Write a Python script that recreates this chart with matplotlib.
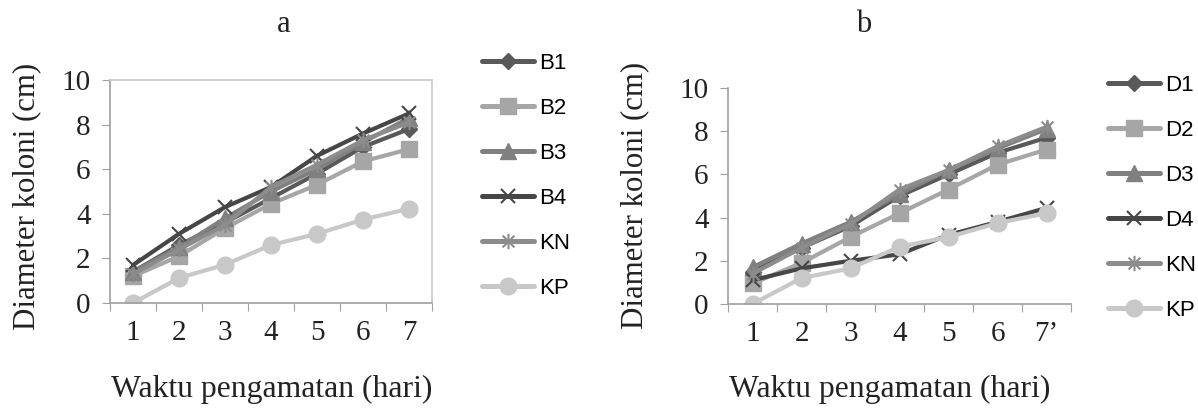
import numpy as np
import matplotlib
matplotlib.use("Agg")
import matplotlib.pyplot as plt
from matplotlib.path import Path
from matplotlib.lines import Line2D

# =============================================================================
# DATA
# =============================================================================
days = [1, 2, 3, 4, 5, 6, 7]
tick_labels_a = ["1", "2", "3", "4", "5", "6", "7"]
tick_labels_b = ["1", "2", "3", "4", "5", "6", "7\u2019"]

labels_a = ["B1", "B2", "B3", "B4", "KN", "KP"]
b1 = [1.4, 2.6, 3.6, 4.7, 5.8, 7.0, 7.8]
b2 = [1.2, 2.1, 3.35, 4.45, 5.3, 6.35, 6.9]
b3 = [1.4, 2.5, 3.8, 5.0, 6.0, 7.2, 8.3]
b4 = [1.7, 3.1, 4.3, 5.2, 6.6, 7.6, 8.5]
kn_a = [1.3, 2.4, 3.5, 5.2, 6.2, 7.3, 8.1]
kp_a = [0.0, 1.12, 1.72, 2.6, 3.1, 3.74, 4.23]

labels_b = ["D1", "D2", "D3", "D4", "KN", "KP"]
d1 = [1.5, 2.6, 3.6, 5.0, 6.0, 7.0, 7.7]
d2 = [0.95, 1.9, 3.1, 4.2, 5.3, 6.45, 7.15]
d3 = [1.7, 2.8, 3.8, 5.1, 6.2, 7.2, 8.1]
d4 = [1.1, 1.65, 2.0, 2.3, 3.2, 3.8, 4.45]
kn_b = [1.4, 2.6, 3.7, 5.3, 6.2, 7.3, 8.2]
kp_b = [0.0, 1.2, 1.65, 2.65, 3.1, 3.75, 4.2]

# =============================================================================
# STYLE
# =============================================================================
SERIF = "Liberation Serif"
SANS = "Liberation Sans"
TEXT = "#222222"

# Excel-like "star": an x with a vertical bar
STAR = Path([(-1, -1), (1, 1), (-1, 1), (1, -1), (0, -1.3), (0, 1.3)],
            [Path.MOVETO, Path.LINETO, Path.MOVETO, Path.LINETO,
             Path.MOVETO, Path.LINETO])

STYLES = [
    dict(color="#595959", marker="D", ms=8),
    dict(color="#A6A6A6", marker="s", ms=11),
    dict(color="#808080", marker="^", ms=11),
    dict(color="#464646", marker="x", ms=10, mew=1.5),
    dict(color="#8C8C8C", marker=STAR, ms=11, mew=1.5),
    dict(color="#C8C8C8", marker="o", ms=12),
]

W, H = 1198, 412
fig = plt.figure(figsize=(W / 100, H / 100), dpi=100)


def px_axes(left, right, top, bottom):
    return fig.add_axes([left / W, 1 - bottom / H, (right - left) / W, (bottom - top) / H])


def draw_panel(ax, series, labels, xticklabels, boxed):
    for vals, lab, st in zip(series, labels, STYLES):
        ax.plot(days, vals, color=st["color"], lw=3, marker=st["marker"],
                ms=st["ms"], mew=st.get("mew", 1), mec=st["color"],
                mfc=st["color"], label=lab, solid_capstyle="round")
    ax.set_xlim(0.5, 7.5)
    ax.set_ylim(0, 10)
    ax.set_yticks(np.arange(0, 11, 2))
    # category boundaries carry the tick marks, labels sit in between
    ax.set_xticks(np.arange(0.5, 8, 1))
    ax.set_xticklabels([])
    ax.set_xticks(days, minor=True)
    ax.set_xticklabels(xticklabels, minor=True)
    ax.tick_params(axis="x", which="major", length=6, color="#A0A0A0", direction="out")
    ax.tick_params(axis="x", which="minor", length=0, pad=12)
    ax.tick_params(axis="y", length=6, color="#A0A0A0", direction="out", pad=8)
    for lab in ax.get_xticklabels(minor=True) + ax.get_yticklabels():
        lab.set_fontfamily(SERIF)
        lab.set_fontsize(21)
        lab.set_color(TEXT)
    for side in ["left", "bottom"]:
        ax.spines[side].set_color("#A0A0A0")
        ax.spines[side].set_linewidth(1.2)
    if boxed:
        for side in ["top", "right"]:
            ax.spines[side].set_color("#C8C8C8")
            ax.spines[side].set_linewidth(1.2)
    else:
        ax.spines["top"].set_visible(False)
        ax.spines["right"].set_visible(False)


def draw_legend(labels, x, y):
    handles = []
    for lab, st in zip(labels, STYLES):
        handles.append(Line2D([], [], color=st["color"], lw=3.6, marker=st["marker"],
                              ms=st["ms"], mew=st.get("mew", 1), mec=st["color"],
                              mfc=st["color"], solid_capstyle="round"))
    fig.legend(handles, labels, loc="upper left", bbox_to_anchor=(x / W, 1 - y / H),
               frameon=False, borderpad=0, borderaxespad=0, handlelength=2.35,
               handletextpad=0.22, labelspacing=1.08,
               prop={"family": SANS, "size": 16})


ax_a = px_axes(110, 432, 80, 303)
draw_panel(ax_a, [b1, b2, b3, b4, kn_a, kp_a], labels_a, tick_labels_a, boxed=True)
ax_b = px_axes(728, 1071, 88, 304)
draw_panel(ax_b, [d1, d2, d3, d4, kn_b, kp_b], labels_b, tick_labels_b, boxed=False)

draw_legend(labels_a, 482, 53)
draw_legend(labels_b, 1108, 75)

for cx, t in [(284, "a"), (864, "b")]:
    fig.text(cx / W, 1 - 25 / H, t, ha="center", va="center", family=SERIF,
             fontsize=22, color=TEXT)
for cx in [272, 890]:
    fig.text(cx / W, 1 - 389 / H, "Waktu pengamatan (hari)", ha="center", va="center",
             family=SERIF, fontsize=22.8, color=TEXT)
for cx, cy in [(27, 196), (635, 195)]:
    fig.text(cx / W, 1 - cy / H, "Diameter koloni (cm)", ha="center", va="center",
             rotation=90, family=SERIF, fontsize=22.2, color=TEXT)

fig.savefig("out.png", dpi=100, facecolor="white")
